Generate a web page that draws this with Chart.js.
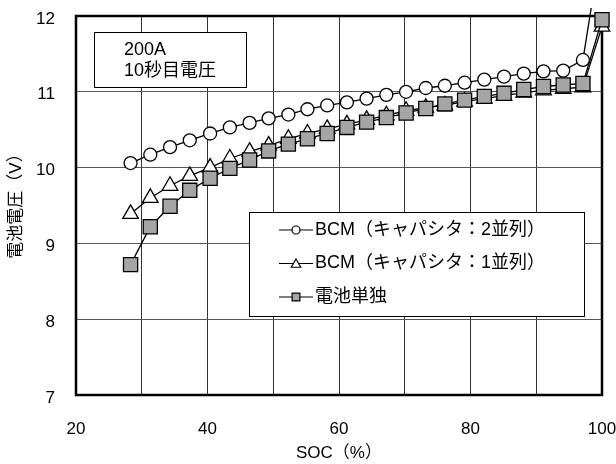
<!DOCTYPE html>
<html>
<head>
<meta charset="utf-8">
<script src="https://cdn.jsdelivr.net/npm/chart.js@4/dist/chart.umd.min.js"></script>
<style>
  html, body { margin: 0; padding: 0; background: #fff; }
  #wrap { width: 616px; height: 464px; }
</style>
</head>
<body>
<div id="wrap"><canvas id="myChart" width="616" height="464"></canvas></div>
<script>
// SOC (%) of each measurement
const soc = [28.3, 31.3, 34.3, 37.3, 40.4, 43.4, 46.4, 49.3, 52.3, 55.2, 58.2, 61.2, 64.2,
             67.2, 70.2, 73.2, 76.1, 79.1, 82.1, 85.1, 88.1, 91.1, 94.1, 97.1, 100]
// battery voltage after 10 s at 200A
const bcm2 = [10.06, 10.17, 10.27, 10.36, 10.45, 10.53, 10.59, 10.65, 10.70, 10.77, 10.82, 10.86, 10.91,
              10.96, 11.00, 11.05, 11.08, 11.12, 11.16, 11.20, 11.24, 11.27, 11.28, 11.42, 13.0]
const bcm1 = [9.39, 9.60, 9.76, 9.89, 10.00, 10.12, 10.21, 10.29, 10.38, 10.45, 10.51, 10.57, 10.63,
              10.69, 10.75, 10.79, 10.82, 10.87, 10.91, 10.95, 10.99, 11.02, 11.04, 11.06, 11.86]
const batteryOnly = [8.72, 9.22, 9.49, 9.70, 9.86, 9.99, 10.10, 10.22, 10.31, 10.38, 10.45, 10.53, 10.60,
                     10.66, 10.72, 10.78, 10.84, 10.89, 10.94, 10.98, 11.03, 11.07, 11.09, 11.11, 11.95]

const seriesNames = ['BCM（キャパシタ：2並列）', 'BCM（キャパシタ：1並列）', '電池単独']
const xTitle = 'SOC（%）'
const yTitle = '電池電圧（V）'
const noteLines = ['200A', '10秒目電圧']

const FONT = '"Liberation Sans", "Noto Sans CJK JP", sans-serif'
const GRAY = '#a5a5a5'

const toPoints = ys => ys.map((y, i) => ({x: soc[i], y: y}))

// keep the plot area where the reference has it, labels may overhang
const fixScale = size => s => {
    if (s.isHorizontal()) s.height = size
    else s.width = size
    s.paddingTop = s.paddingBottom = s.paddingLeft = s.paddingRight = 0
}

// frame, note box, legend box and axis titles
const decorations = {
    id: 'decorations',
    beforeDatasetsDraw(chart) {
        const {ctx, chartArea: a} = chart
        ctx.save()
        ctx.font = '18px ' + FONT
        ctx.textBaseline = 'middle'

        // note box
        ctx.fillStyle = '#fff'
        ctx.fillRect(94, 32, 152, 55)
        ctx.strokeStyle = '#000'
        ctx.lineWidth = 1
        ctx.strokeRect(94.5, 32.5, 152, 55)
        ctx.fillStyle = '#000'
        ctx.textAlign = 'left'
        ctx.fillText(noteLines[0], 124, 50)
        ctx.fillText(noteLines[1], 124, 71)

        // legend box
        ctx.fillStyle = '#fff'
        ctx.fillRect(249, 212, 335, 104)
        ctx.strokeRect(249.5, 212.5, 335, 104)
        const rows = [230, 263.5, 297]
        const styles = [
            {pointStyle: 'circle', radius: 4, bg: '#fff'},
            {pointStyle: 'triangle', radius: 5.5, bg: '#fff'},
            {pointStyle: 'rect', radius: 5.5, bg: GRAY}
        ]
        rows.forEach((y, i) => {
            ctx.strokeStyle = '#000'
            ctx.lineWidth = 1.2
            ctx.beginPath()
            ctx.moveTo(279, y)
            ctx.lineTo(313, y)
            ctx.stroke()
            ctx.fillStyle = styles[i].bg
            Chart.helpers.drawPoint(ctx, {pointStyle: styles[i].pointStyle, radius: styles[i].radius, borderWidth: 1.2}, 296, y + (i === 1 ? 1 : 0))
            ctx.fillStyle = '#000'
            ctx.fillText(seriesNames[i], 315, y)
        })

        // plot frame
        ctx.strokeStyle = '#000'
        ctx.lineWidth = 2.5
        ctx.strokeRect(a.left, a.top, a.right - a.left, a.bottom - a.top)

        // axis titles
        ctx.font = '17px ' + FONT
        ctx.textAlign = 'center'
        ctx.fillText(xTitle, (a.left + a.right) / 2, 453)
        ctx.translate(16, 202)
        ctx.rotate(-Math.PI / 2)
        ctx.fillText(yTitle, 0, 0)
        ctx.restore()
    }
}

new Chart(document.getElementById('myChart'), {
    type: 'scatter',
    plugins: [decorations],
    data: {
        datasets: [
            {
                label: seriesNames[0],
                data: toPoints(bcm2),
                showLine: true,
                borderColor: '#000',
                borderWidth: 1.3,
                pointStyle: 'circle',
                pointRadius: 6.5,
                pointBorderWidth: 1.3,
                pointBackgroundColor: '#fff',
                pointBorderColor: '#000',
                // the last segment runs a little past the top of the frame
                clip: {left: false, right: false, bottom: false, top: 8},
                order: 2
            },
            {
                label: seriesNames[1],
                data: toPoints(bcm1),
                showLine: true,
                borderColor: '#000',
                borderWidth: 1.3,
                pointStyle: 'triangle',
                pointRadius: 9,
                pointBorderWidth: 1.3,
                pointBackgroundColor: '#fff',
                pointBorderColor: '#000',
                clip: false,
                order: 1
            },
            {
                label: seriesNames[2],
                data: toPoints(batteryOnly),
                showLine: true,
                borderColor: '#000',
                borderWidth: 1.3,
                pointStyle: 'rect',
                pointRadius: 10,
                pointBorderWidth: 1.3,
                pointBackgroundColor: GRAY,
                pointBorderColor: '#000',
                clip: false,
                order: 0
            }
        ]
    },
    options: {
        responsive: false,
        animation: false,
        layout: {padding: {left: 0, top: 16, right: 14, bottom: 0}},
        plugins: {
            legend: {display: false},
            tooltip: {enabled: false}
        },
        scales: {
            x: {
                type: 'linear',
                min: 20,
                max: 100,
                afterFit: fixScale(69),
                border: {display: false},
                grid: {color: '#333', lineWidth: 1, drawTicks: false},
                ticks: {
                    stepSize: 10,
                    padding: 24,
                    color: '#000',
                    font: {family: FONT, size: 17},
                    callback: v => (v % 20 === 0 ? v : '')
                }
            },
            y: {
                type: 'linear',
                min: 7,
                max: 12,
                afterFit: fixScale(76),
                border: {display: false},
                grid: {color: '#555', lineWidth: 1, drawTicks: false},
                ticks: {
                    stepSize: 1,
                    padding: 21,
                    labelOffset: 3,
                    color: '#000',
                    font: {family: FONT, size: 17}
                }
            }
        }
    }
})
</script>
</body>
</html>
